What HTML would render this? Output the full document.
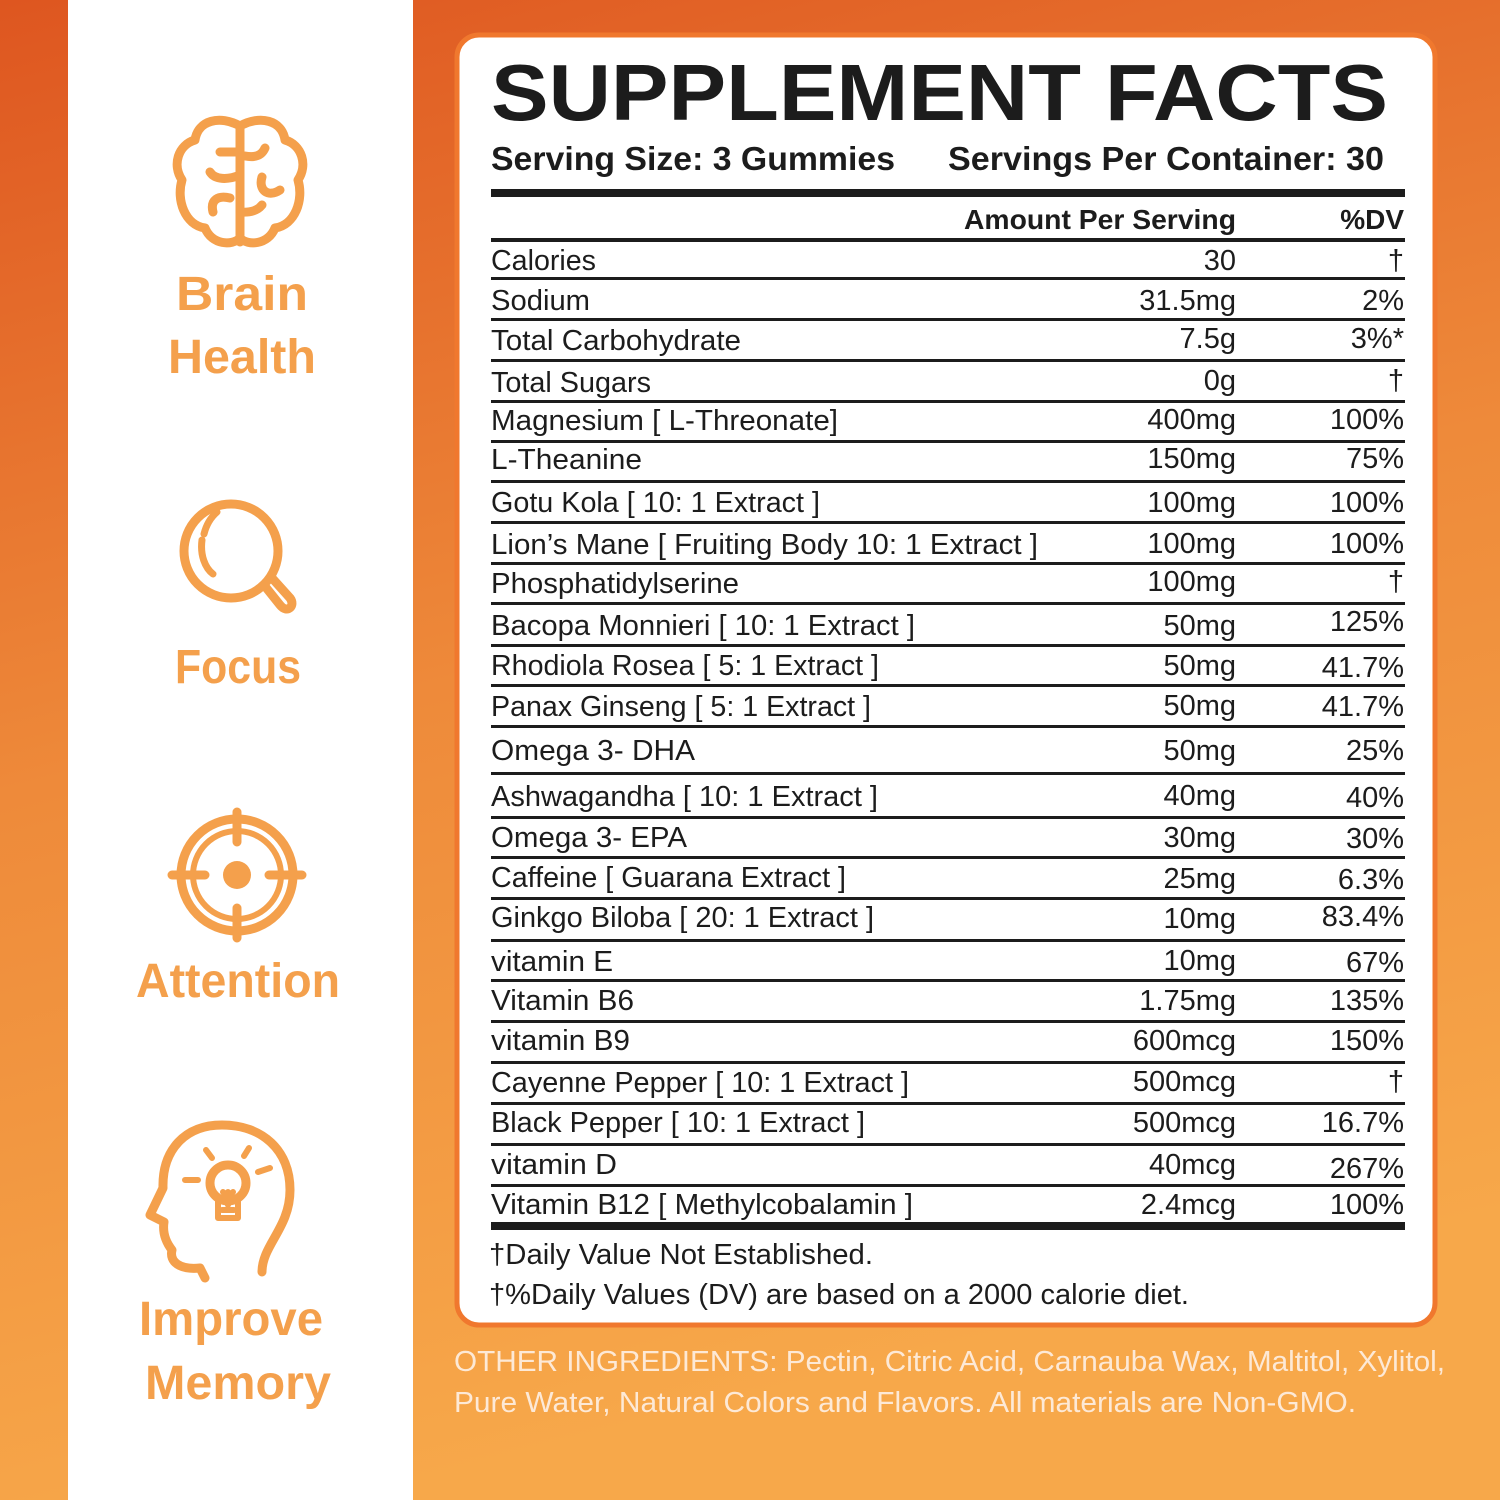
<!DOCTYPE html>
<html><head><meta charset="utf-8"><style>html,body{margin:0;padding:0;width:1500px;height:1500px;overflow:hidden}svg{display:block}</style></head><body>
<svg width="1500" height="1500" viewBox="0 0 1500 1500" xmlns="http://www.w3.org/2000/svg" font-family="Liberation Sans, DejaVu Sans, sans-serif">
<defs>
<linearGradient id="bg" x1="0" y1="0" x2="0.25" y2="1">
<stop offset="0" stop-color="#de5620"/><stop offset="0.5" stop-color="#ee8a3a"/><stop offset="1" stop-color="#f7a84a"/>
</linearGradient>
</defs>
<rect width="1500" height="1500" fill="url(#bg)"/>
<rect x="68" y="0" width="345" height="1500" fill="#fff"/>
<rect x="457" y="35" width="978" height="1290" rx="22" fill="#fff" stroke="#f0782e" stroke-width="5"/>

<g fill="none" stroke="#f4a04c" stroke-width="9" stroke-linecap="round" stroke-linejoin="round">
<!-- brain -->
<path d="M240 126 C220 115 198 120 195 140 C178 145 172 165 182 180 C176 200 185 225 205 228 C212 245 232 246 240 238 C248 246 268 245 275 228 C295 225 304 200 298 180 C308 165 302 145 285 140 C282 120 260 115 240 126 Z"/>
<path d="M240 126 V242"/>
<path d="M220 152 H240 M265 148 C262 155 256 158 245 156 M210 172 C215 180 228 180 240 175 M262 177 C258 190 268 198 280 190 M213 212 C210 200 218 195 230 198 M240 212 C252 213 258 210 262 205"/>
<!-- magnifier -->
<circle cx="231" cy="551" r="47"/>
<path d="M264 585 L280 605 C287 614 296 606 290 598 L272 578"/>
<path d="M202 540 C200 555 205 568 213 574 M217 512 C210 518 206 526 204 534" stroke-width="7"/>
<!-- target -->
<circle cx="237" cy="875" r="56"/>
<circle cx="237" cy="875" r="44" stroke-width="6"/>
<path d="M237 812 V842 M237 908 V938 M172 875 H205 M269 875 H302"/>
<!-- head -->
<path d="M262 1272 C262 1245 290 1228 290 1190 C290 1150 262 1125 222 1125 C185 1125 162 1150 163 1188 L150 1215 L164 1222 C162 1235 168 1245 172 1250 C169 1262 180 1270 200 1268 L205 1278"/>
<circle cx="228" cy="1183" r="18"/>
<path d="M218 1198 V1218 H238 V1198 M222 1210 H234 M228 1192 V1205 M223 1192 L228 1198 L233 1192" stroke-width="6"/>
<path d="M185 1180 H198 M258 1172 L270 1168 M206 1150 L212 1158 M249 1148 L244 1156" stroke-width="6"/>
</g>
<g fill="#f4a04c" stroke="none">
<circle cx="237" cy="875" r="14"/>
</g>
<g fill="#f4a04c" font-weight="bold" font-size="48" text-anchor="middle">
<text x="242" y="310" textLength="132" lengthAdjust="spacingAndGlyphs">Brain</text>
<text x="242" y="373" textLength="148" lengthAdjust="spacingAndGlyphs">Health</text>
<text x="238" y="683" textLength="126" lengthAdjust="spacingAndGlyphs">Focus</text>
<text x="238" y="997" textLength="204" lengthAdjust="spacingAndGlyphs">Attention</text>
<text x="231" y="1335" textLength="184" lengthAdjust="spacingAndGlyphs">Improve</text>
<text x="238" y="1399" textLength="186" lengthAdjust="spacingAndGlyphs">Memory</text>
</g>

<g fill="#1c1c1c">
<text x="491" y="120" font-size="80" font-weight="bold" textLength="897" lengthAdjust="spacingAndGlyphs">SUPPLEMENT FACTS</text>
<text x="491" y="170" font-size="33" font-weight="bold" textLength="404" lengthAdjust="spacingAndGlyphs">Serving Size: 3 Gummies</text>
<text x="948" y="170" font-size="33" font-weight="bold" textLength="436" lengthAdjust="spacingAndGlyphs">Servings Per Container: 30</text>
<rect x="491" y="189" width="914" height="8"/>
<text x="1236" y="229" font-size="28" font-weight="bold" text-anchor="end" textLength="272" lengthAdjust="spacingAndGlyphs">Amount Per Serving</text>
<text x="1404" y="229" font-size="28" font-weight="bold" text-anchor="end">%DV</text>
<rect x="491" y="238" width="914" height="4"/>
<rect x="491" y="1222" width="914" height="8"/>
</g>

<g fill="#1c1c1c" font-size="29">
<g>
<rect x="491" y="277" width="914" height="3"/><rect x="491" y="318" width="914" height="3"/><rect x="491" y="359" width="914" height="3"/><rect x="491" y="400" width="914" height="3"/><rect x="491" y="440" width="914" height="3"/><rect x="491" y="480" width="914" height="3"/><rect x="491" y="521" width="914" height="3"/><rect x="491" y="562" width="914" height="3"/><rect x="491" y="602" width="914" height="3"/><rect x="491" y="644" width="914" height="3"/><rect x="491" y="684" width="914" height="3"/><rect x="491" y="725" width="914" height="3"/><rect x="491" y="772" width="914" height="3"/><rect x="491" y="816" width="914" height="3"/><rect x="491" y="856" width="914" height="3"/><rect x="491" y="897" width="914" height="3"/><rect x="491" y="939" width="914" height="3"/><rect x="491" y="979" width="914" height="3"/><rect x="491" y="1020" width="914" height="3"/><rect x="491" y="1061" width="914" height="3"/><rect x="491" y="1102" width="914" height="3"/><rect x="491" y="1143" width="914" height="3"/><rect x="491" y="1184" width="914" height="3"/>
</g>
<g>
<text x="491" y="270" textLength="105" lengthAdjust="spacingAndGlyphs">Calories</text>
<text x="491" y="310" textLength="99" lengthAdjust="spacingAndGlyphs">Sodium</text>
<text x="491" y="350" textLength="250" lengthAdjust="spacingAndGlyphs">Total Carbohydrate</text>
<text x="491" y="392" textLength="160" lengthAdjust="spacingAndGlyphs">Total Sugars</text>
<text x="491" y="430" textLength="347" lengthAdjust="spacingAndGlyphs">Magnesium [ L-Threonate]</text>
<text x="491" y="469" textLength="151" lengthAdjust="spacingAndGlyphs">L-Theanine</text>
<text x="491" y="512" textLength="329" lengthAdjust="spacingAndGlyphs">Gotu Kola [ 10: 1 Extract ]</text>
<text x="491" y="554" textLength="547" lengthAdjust="spacingAndGlyphs">Lion’s Mane [ Fruiting  Body 10: 1 Extract ]</text>
<text x="491" y="593" textLength="248" lengthAdjust="spacingAndGlyphs">Phosphatidylserine</text>
<text x="491" y="635" textLength="424" lengthAdjust="spacingAndGlyphs">Bacopa Monnieri [ 10: 1 Extract ]</text>
<text x="491" y="675" textLength="388" lengthAdjust="spacingAndGlyphs">Rhodiola Rosea [ 5: 1 Extract ]</text>
<text x="491" y="716" textLength="380" lengthAdjust="spacingAndGlyphs">Panax Ginseng [ 5: 1 Extract ]</text>
<text x="491" y="760" textLength="204" lengthAdjust="spacingAndGlyphs">Omega 3- DHA</text>
<text x="491" y="806" textLength="387" lengthAdjust="spacingAndGlyphs">Ashwagandha [ 10: 1 Extract ]</text>
<text x="491" y="847" textLength="196" lengthAdjust="spacingAndGlyphs">Omega 3- EPA</text>
<text x="491" y="887" textLength="355" lengthAdjust="spacingAndGlyphs">Caffeine [ Guarana Extract ]</text>
<text x="491" y="927" textLength="383" lengthAdjust="spacingAndGlyphs">Ginkgo Biloba [ 20: 1 Extract ]</text>
<text x="491" y="971" textLength="122" lengthAdjust="spacingAndGlyphs">vitamin E</text>
<text x="491" y="1010" textLength="143" lengthAdjust="spacingAndGlyphs">Vitamin B6</text>
<text x="491" y="1050" textLength="139" lengthAdjust="spacingAndGlyphs">vitamin B9</text>
<text x="491" y="1092" textLength="418" lengthAdjust="spacingAndGlyphs">Cayenne Pepper [ 10: 1 Extract ]</text>
<text x="491" y="1132" textLength="374" lengthAdjust="spacingAndGlyphs">Black Pepper [ 10: 1 Extract ]</text>
<text x="491" y="1174" textLength="126" lengthAdjust="spacingAndGlyphs">vitamin D</text>
<text x="491" y="1214" textLength="422" lengthAdjust="spacingAndGlyphs">Vitamin B12 [ Methylcobalamin ]</text>
</g>
<g text-anchor="end">
<text x="1236" y="270">30</text><text x="1236" y="310">31.5mg</text><text x="1236" y="348">7.5g</text><text x="1236" y="390">0g</text><text x="1236" y="429">400mg</text><text x="1236" y="468">150mg</text><text x="1236" y="512">100mg</text><text x="1236" y="553">100mg</text><text x="1236" y="591">100mg</text><text x="1236" y="635">50mg</text><text x="1236" y="675">50mg</text><text x="1236" y="715">50mg</text><text x="1236" y="760">50mg</text><text x="1236" y="805">40mg</text><text x="1236" y="847">30mg</text><text x="1236" y="888">25mg</text><text x="1236" y="928">10mg</text><text x="1236" y="970">10mg</text><text x="1236" y="1010">1.75mg</text><text x="1236" y="1050">600mcg</text><text x="1236" y="1091">500mcg</text><text x="1236" y="1132">500mcg</text><text x="1236" y="1174">40mcg</text><text x="1236" y="1214">2.4mcg</text>
<text x="1404" y="270">†</text><text x="1404" y="310">2%</text><text x="1404" y="348">3%*</text><text x="1404" y="390">†</text><text x="1404" y="429">100%</text><text x="1404" y="468">75%</text><text x="1404" y="512">100%</text><text x="1404" y="553">100%</text><text x="1404" y="591">†</text><text x="1404" y="631">125%</text><text x="1404" y="677">41.7%</text><text x="1404" y="716">41.7%</text><text x="1404" y="760">25%</text><text x="1404" y="807">40%</text><text x="1404" y="848">30%</text><text x="1404" y="889">6.3%</text><text x="1404" y="926">83.4%</text><text x="1404" y="972">67%</text><text x="1404" y="1010">135%</text><text x="1404" y="1050">150%</text><text x="1404" y="1091">†</text><text x="1404" y="1132">16.7%</text><text x="1404" y="1178">267%</text><text x="1404" y="1214">100%</text>
</g>
<text x="489" y="1264" textLength="384" lengthAdjust="spacingAndGlyphs">†Daily Value Not Established.</text>
<text x="489" y="1304" textLength="700" lengthAdjust="spacingAndGlyphs">†%Daily Values (DV) are based on a 2000 calorie diet.</text>
</g>
<g fill="#fde9d6" font-size="29">
<text x="454" y="1371" textLength="991" lengthAdjust="spacingAndGlyphs">OTHER INGREDIENTS: Pectin, Citric Acid, Carnauba Wax, Maltitol, Xylitol,</text>
<text x="454" y="1412" textLength="902" lengthAdjust="spacingAndGlyphs">Pure Water, Natural Colors and Flavors. All materials are Non-GMO.</text>
</g>
</svg>
</body></html>
